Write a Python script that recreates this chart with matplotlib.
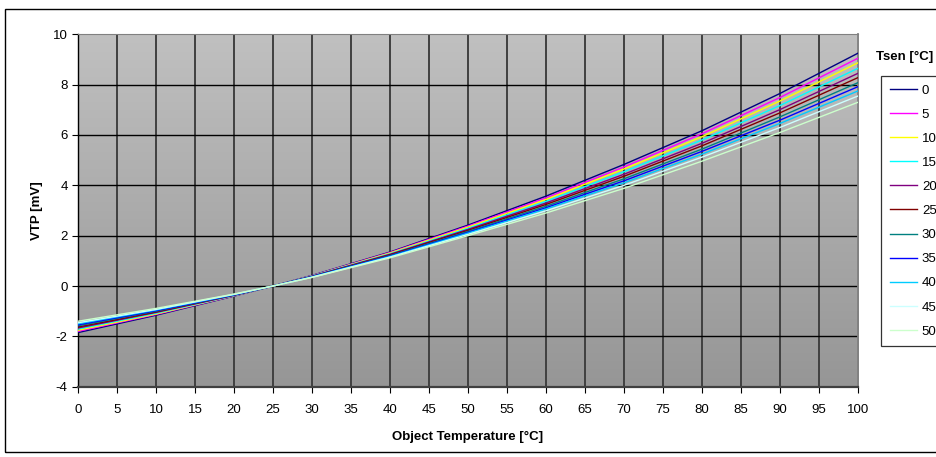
import numpy as np
import matplotlib
matplotlib.use("Agg")
import matplotlib.pyplot as plt
from matplotlib.colors import LinearSegmentedColormap
from matplotlib.patches import Rectangle

plt.rcParams['font.family'] = ['Liberation Sans', 'DejaVu Sans']
plt.rcParams['axes.unicode_minus'] = False

# Object temperature [°C]
t_obj = [0, 10, 20, 25, 30, 40, 50, 60, 70, 80, 90, 100]

# Sensor temperatures [°C] and thermopile voltage curves [mV]
tsen_labels = ["0", "5", "10", "15", "20", "25", "30", "35", "40", "45", "50"]
vtp_0  = [-1.85, -1.16, -0.40, 0.0, 0.42, 1.35, 2.42, 3.57, 4.83, 6.17, 7.65, 9.25]
vtp_5  = [-1.80, -1.13, -0.39, 0.0, 0.41, 1.33, 2.38, 3.50, 4.73, 6.05, 7.49, 9.05]
vtp_10 = [-1.76, -1.11, -0.38, 0.0, 0.40, 1.31, 2.34, 3.44, 4.65, 5.93, 7.35, 8.87]
vtp_15 = [-1.71, -1.08, -0.38, 0.0, 0.40, 1.28, 2.29, 3.36, 4.54, 5.80, 7.17, 8.65]
vtp_20 = [-1.67, -1.05, -0.37, 0.0, 0.39, 1.26, 2.25, 3.30, 4.44, 5.67, 7.01, 8.45]
vtp_25 = [-1.63, -1.03, -0.36, 0.0, 0.38, 1.24, 2.21, 3.24, 4.36, 5.57, 6.88, 8.28]
vtp_30 = [-1.58, -1.00, -0.35, 0.0, 0.37, 1.21, 2.17, 3.17, 4.26, 5.44, 6.72, 8.08]
vtp_35 = [-1.54, -0.98, -0.35, 0.0, 0.37, 1.19, 2.13, 3.11, 4.18, 5.35, 6.59, 7.92]
vtp_40 = [-1.50, -0.95, -0.34, 0.0, 0.36, 1.17, 2.10, 3.06, 4.10, 5.24, 6.46, 7.75]
vtp_45 = [-1.46, -0.93, -0.33, 0.0, 0.35, 1.15, 2.05, 2.99, 4.00, 5.12, 6.30, 7.55]
vtp_50 = [-1.40, -0.89, -0.32, 0.0, 0.34, 1.12, 2.00, 2.90, 3.88, 4.96, 6.10, 7.30]

series = [vtp_0, vtp_5, vtp_10, vtp_15, vtp_20, vtp_25,
          vtp_30, vtp_35, vtp_40, vtp_45, vtp_50]
colors = ["#000080", "#FF00FF", "#FFFF00", "#00FFFF", "#800080", "#800000",
          "#008080", "#0000FF", "#00CCFF", "#CCFFFF", "#CCFFCC"]

x_ticks = list(range(0, 101, 5))
y_ticks = list(range(-4, 11, 2))

W, H = 936, 457
fig = plt.figure(figsize=(W / 100, H / 100), dpi=100)
fig.patch.set_facecolor("white")

ax = fig.add_axes([78 / W, 1 - 386.7 / H, (858 - 78) / W, (386.7 - 34.3) / H])

# gradient plot-area background
grad = LinearSegmentedColormap.from_list("bg", ["#969696", "#C0C0C0"])
ax.imshow(np.linspace(0, 1, 256).reshape(-1, 1), cmap=grad, origin="lower",
          extent=[0, 100, -4, 10], aspect="auto", zorder=0)

# grid lines
for xv in x_ticks[1:-1]:
    ax.axvline(xv, color="#404040", lw=1.4, zorder=1)
for yv in y_ticks[1:-1]:
    ax.axhline(yv, color="black", lw=1.0, zorder=1)

for vals, col, lab in zip(series, colors, tsen_labels):
    ax.plot(t_obj, vals, color=col, lw=1.0, label=lab, zorder=3)

ax.set_xlim(0, 100)
ax.set_ylim(-4, 10)
ax.set_xticks(x_ticks)
ax.set_yticks(y_ticks)
ax.tick_params(axis="both", direction="out", length=4, width=0.8,
               labelsize=9.5, colors="black")
ax.tick_params(axis="x", pad=8.5)
ax.tick_params(axis="y", pad=3.5)

ax.spines["left"].set_color("black")
ax.spines["left"].set_linewidth(1.0)
ax.spines["bottom"].set_color("#404040")
ax.spines["bottom"].set_linewidth(1.6)
ax.spines["top"].set_color("#808080")
ax.spines["right"].set_color("#808080")
ax.spines["right"].set_linewidth(1.3)

ax.set_xlabel("Object Temperature [°C]", fontsize=9.5, fontweight="bold", labelpad=11)
ax.set_ylabel("VTP [mV]", fontsize=9.5, fontweight="bold", labelpad=7)

# legend, placed at the right margin
leg = fig.legend(loc="upper left", bbox_to_anchor=(881 / W, 1 - 75.7 / H),
                 borderaxespad=0, fontsize=9.5, frameon=True, fancybox=False,
                 handlelength=2.1, handletextpad=0.35, labelspacing=0.9,
                 borderpad=0.65)
leg.get_frame().set_edgecolor("black")
leg.get_frame().set_linewidth(0.9)
fig.text(876 / W, 1 - 57 / H, "Tsen [°C]", fontsize=9.5, fontweight="bold",
         ha="left", va="center")

# outer chart frame
fig.patches.append(Rectangle((5 / W, 1 - 452 / H), 1.2, (452 - 9) / H,
                             transform=fig.transFigure, fill=False,
                             edgecolor="black", lw=1.0, clip_on=False))

fig.savefig("out.png", dpi=100)
